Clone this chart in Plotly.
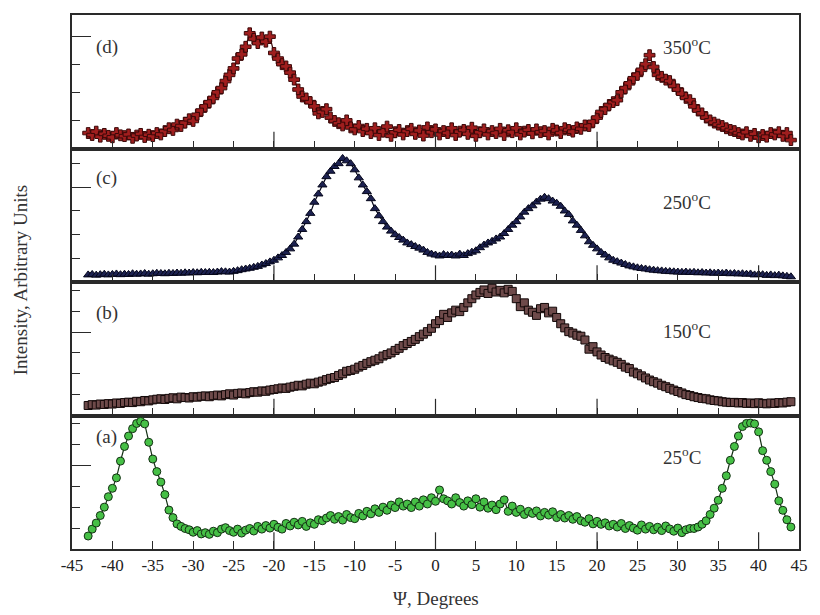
import plotly.graph_objects as go
from plotly.subplots import make_subplots

# ---------------- data ----------------
psi = [-43.0, -42.5, -42.0, -41.5, -41.0, -40.5, -40.0, -39.5, -39.0, -38.5,
       -38.0, -37.5, -37.0, -36.5, -36.0, -35.5, -35.0, -34.5, -34.0, -33.5,
       -33.0, -32.5, -32.0, -31.5, -31.0, -30.5, -30.0, -29.5, -29.0, -28.5,
       -28.0, -27.5, -27.0, -26.5, -26.0, -25.5, -25.0, -24.5, -24.0, -23.5,
       -23.0, -22.5, -22.0, -21.5, -21.0, -20.5, -20.0, -19.5, -19.0, -18.5,
       -18.0, -17.5, -17.0, -16.5, -16.0, -15.5, -15.0, -14.5, -14.0, -13.5,
       -13.0, -12.5, -12.0, -11.5, -11.0, -10.5, -10.0, -9.5, -9.0, -8.5,
       -8.0, -7.5, -7.0, -6.5, -6.0, -5.5, -5.0, -4.5, -4.0, -3.5,
       -3.0, -2.5, -2.0, -1.5, -1.0, -0.5, 0.0, 0.5, 1.0, 1.5,
       2.0, 2.5, 3.0, 3.5, 4.0, 4.5, 5.0, 5.5, 6.0, 6.5,
       7.0, 7.5, 8.0, 8.5, 9.0, 9.5, 10.0, 10.5, 11.0, 11.5,
       12.0, 12.5, 13.0, 13.5, 14.0, 14.5, 15.0, 15.5, 16.0, 16.5,
       17.0, 17.5, 18.0, 18.5, 19.0, 19.5, 20.0, 20.5, 21.0, 21.5,
       22.0, 22.5, 23.0, 23.5, 24.0, 24.5, 25.0, 25.5, 26.0, 26.5,
       27.0, 27.5, 28.0, 28.5, 29.0, 29.5, 30.0, 30.5, 31.0, 31.5,
       32.0, 32.5, 33.0, 33.5, 34.0, 34.5, 35.0, 35.5, 36.0, 36.5,
       37.0, 37.5, 38.0, 38.5, 39.0, 39.5, 40.0, 40.5, 41.0, 41.5,
       42.0, 42.5, 43.0, 43.5, 44.0]

int_350 = [55, 48, 60, 42, 52, 45, 40, 55, 47, 44,
           50, 38, 46, 52, 41, 49, 44, 55, 50, 62,
           72, 66, 85, 80, 92, 104, 98, 120, 135, 150,
           165, 180, 200, 215, 240, 262, 285, 320, 335, 362,
           410, 390, 375, 395, 380, 398, 340, 320, 300, 292,
           270, 245, 210, 185, 178, 165, 150, 125, 130, 140,
           110, 98, 90, 82, 100, 75, 68, 80, 62, 70,
           55, 72, 48, 60, 78, 45, 58, 66, 50, 62,
           70, 52, 64, 46, 75, 58, 68, 50, 62, 55,
           72, 48, 60, 66, 52, 74, 45, 58, 68, 50,
           62, 55, 70, 48, 65, 58, 72, 50, 60, 66,
           54, 68, 58, 62, 50, 70, 64, 55, 72, 66,
           60, 75, 70, 82, 80, 95, 110, 130, 140, 155,
           165, 172, 200, 215, 232, 250, 262, 280, 300, 332,
           290, 262, 255, 245, 240, 222, 210, 195, 180, 172,
           150, 135, 125, 110, 100, 92, 85, 80, 72, 66,
           62, 55, 50, 58, 45, 52, 40, 48, 42, 55,
           50, 58, 45, 55, 30]

int_250 = [30, 32, 29, 31, 33, 30, 32, 34, 31, 33,
           32, 35, 33, 34, 36, 33, 35, 37, 36, 35,
           37, 36, 38, 37, 39, 38, 40, 39, 41, 40,
           41, 40, 42, 44, 43, 42, 45, 48, 52, 55,
           58, 62, 66, 72, 78, 85, 92, 102, 112, 125,
           140, 160, 190, 222, 255, 290, 337, 372, 410, 445,
           468, 488, 500, 522, 512, 500, 474, 440, 410, 382,
           352, 310, 280, 255, 232, 215, 200, 188, 177, 165,
           158, 150, 143, 135, 125, 118, 114, 110, 116, 112,
           114, 110, 118, 112, 120, 126, 132, 145, 156, 165,
           172, 182, 190, 205, 222, 240, 255, 275, 295, 310,
           322, 338, 350, 358, 352, 342, 333, 320, 300, 285,
           258, 240, 218, 195, 170, 155, 140, 125, 114, 102,
           92, 86, 80, 74, 68, 64, 60, 57, 55, 52,
           50, 48, 47, 45, 44, 43, 42, 41, 42, 40,
           41, 39, 40, 38, 39, 37, 38, 36, 38, 35,
           36, 34, 35, 33, 34, 30, 32, 31, 28, 30,
           27, 29, 26, 24, 22]

int_150 = [48, 52, 50, 55, 53, 57, 55, 60, 58, 62,
           64, 62, 68, 66, 72, 70, 75, 78, 80, 77,
           82, 85, 80, 88, 86, 84, 90, 88, 92, 94,
           90, 95, 98, 94, 100, 104, 98, 106, 108, 104,
           110, 114, 112, 118, 116, 122, 125, 128, 132, 130,
           136, 140, 145, 142, 150, 155, 152, 160, 165, 172,
           178, 182, 192, 200, 212, 216, 222, 232, 240, 250,
           258, 265, 272, 285, 292, 300, 312, 322, 335, 345,
           355, 365, 378, 390, 402, 418, 440, 455, 485, 470,
           492, 505, 498, 518, 540, 560, 578, 590, 602, 585,
           610, 592, 600, 588, 605, 595, 560, 522, 540, 505,
           495, 480, 512, 518, 492, 500, 470, 440, 420, 402,
           395, 385, 380, 362, 318, 330, 305, 290, 278, 270,
           262, 255, 245, 232, 225, 208, 200, 190, 180, 170,
           162, 155, 145, 138, 130, 122, 115, 108, 100, 96,
           90, 86, 82, 80, 75, 72, 70, 66, 64, 62,
           63, 60, 62, 58, 60, 57, 61, 58, 56, 60,
           58, 62, 60, 64, 66]

int_25 = [62, 95, 124, 160, 200, 250, 290, 340, 420, 490,
          540, 575, 600, 610, 598, 510, 430, 370, 320, 260,
          186, 150, 120, 108, 98, 92, 80, 88, 72, 78,
          70, 85, 78, 95, 102, 88, 80, 95, 76, 90,
          98, 86, 108, 95, 112, 100, 118, 104, 95, 122,
          110, 128, 115, 132, 108, 125, 118, 140, 135, 148,
          160, 142, 155, 138, 165, 150, 145, 170, 158, 180,
          168, 192, 175, 200, 185, 210, 198, 225, 205, 215,
          198, 225, 205, 235, 215, 245, 228, 282, 240, 230,
          215, 245, 222, 205, 230, 212, 240, 200, 225, 195,
          210, 188, 215, 235, 180, 205, 175, 190, 165, 180,
          170, 182, 158, 175, 162, 178, 150, 165, 148, 160,
          142, 155, 135, 128, 145, 120, 132, 118, 125, 110,
          118, 105, 122, 98, 112, 100, 90, 115, 95, 108,
          92, 104, 88, 110, 96, 85, 100, 78, 92, 98,
          98, 105, 118, 135, 165, 195, 233, 290, 350, 424,
          490, 540, 585, 600, 602, 598, 560, 470, 424, 370,
          310, 230, 185, 140, 105]

x_tickvals = [-45, -40, -35, -30, -25, -20, -15, -10, -5, 0, 5, 10, 15, 20, 25, 30, 35, 40, 45]
x_ticktext = ["-45", "-40", "-35", "-30", "-25", "-20", "-15", "-10", "-5", "0",
              "5", "10", "15", "20", "25", "30", "35", "40", "45"]
panel_letters = ["(d)", "(c)", "(b)", "(a)"]
temp_labels = ["350<sup>o</sup>C", "250<sup>o</sup>C", "150<sup>o</sup>C", "25<sup>o</sup>C"]
y_ticks = [[100, 200, 300, 400], [100, 200, 300, 400, 500],
           [100, 200, 300, 400, 500, 600], [100, 200, 300, 400, 500, 600]]
y_ranges = [[0, 475], [0, 564], [0, 640], [0, 638]]

# ---------------- figure ----------------
SERIF = "Liberation Serif, Times New Roman, serif"
AX = "#2a2a2a"

fig = make_subplots(rows=4, cols=1, shared_xaxes=True, vertical_spacing=0)

styles = [
    dict(symbol="cross", size=9, color="#a01e1e", line=dict(color="#3a0808", width=1)),
    dict(symbol="triangle-up", size=8, color="#1c2150", line=dict(color="#05061a", width=1)),
    dict(symbol="square", size=8, color="#6e4a4a", line=dict(color="#120808", width=1)),
    dict(symbol="circle", size=8, color="#46c046", line=dict(color="#143014", width=1)),
]
series = [int_350, int_250, int_150, int_25]
line_cols = ["#3a0808", "#05061a", "#120808", "#143014"]

for i, (vals, st) in enumerate(zip(series, styles)):
    fig.add_trace(go.Scatter(x=psi, y=vals, mode="lines+markers",
                             marker=st, line=dict(color=line_cols[i], width=1.2),
                             showlegend=False), row=i + 1, col=1)

for i in range(4):
    r = i + 1
    fig.update_xaxes(range=[-45, 45], tickmode="array", tickvals=x_tickvals,
                     ticktext=x_ticktext, ticks="inside", ticklen=8, tickwidth=1.2,
                     tickcolor=AX, showline=True, linecolor=AX, linewidth=1.6,
                     mirror=True, showgrid=False, zeroline=False,
                     showticklabels=(r == 4),
                     tickfont=dict(family=SERIF, size=17, color="#222"),
                     row=r, col=1)
    minor_vals = [v for v in y_ticks[i] if v != 400]
    fig.update_yaxes(range=y_ranges[i], tickmode="array", tickvals=[400],
                     ticks="inside", ticklen=19, tickwidth=1.2, tickcolor=AX,
                     minor=dict(tickmode="array", tickvals=minor_vals, ticks="inside",
                                ticklen=8, tickwidth=1.2, tickcolor=AX),
                     showticklabels=False, showline=True, linecolor=AX, linewidth=1.6,
                     mirror=True, showgrid=False, zeroline=False, row=r, col=1)

    xr = "x" if r == 1 else f"x{r}"
    yr = "y" if r == 1 else f"y{r}"
    for v in [-20, 0, 20, 40]:
        fig.add_shape(type="line", xref=xr, yref=f"{yr} domain", x0=v, x1=v,
                      y0=0, y1=0.125, line=dict(color=AX, width=1.2))

letter_y = [0.76, 0.78, 0.77, 0.84]
temp_y = [0.77, 0.61, 0.64, 0.70]
for i in range(4):
    r = i + 1
    xr = "x" if r == 1 else f"x{r}"
    yr = "y" if r == 1 else f"y{r}"
    fig.add_annotation(text=panel_letters[i], xref=f"{xr} domain", yref=f"{yr} domain",
                       x=0.048, y=letter_y[i], showarrow=False, xanchor="center",
                       yanchor="middle", font=dict(family=SERIF, size=19, color="#333"))
    fig.add_annotation(text=temp_labels[i], xref=f"{xr} domain", yref=f"{yr} domain",
                       x=0.81, y=temp_y[i], showarrow=False, xanchor="left",
                       yanchor="middle", font=dict(family=SERIF, size=19, color="#333"))

fig.add_annotation(text="Intensity, Arbitrary Units", xref="paper", yref="paper",
                   x=-0.071, y=0.504, textangle=-90, showarrow=False,
                   xanchor="center", yanchor="middle",
                   font=dict(family=SERIF, size=19, color="#333"))
fig.add_annotation(text="Ψ, Degrees", xref="paper", yref="paper",
                   x=0.5, y=-0.092, showarrow=False, xanchor="center", yanchor="middle",
                   font=dict(family=SERIF, size=19, color="#333"))

fig.update_layout(width=820, height=615, margin=dict(l=72, r=14, t=15, b=66),
                  paper_bgcolor="white", plot_bgcolor="white")

fig.write_html("out.html")
